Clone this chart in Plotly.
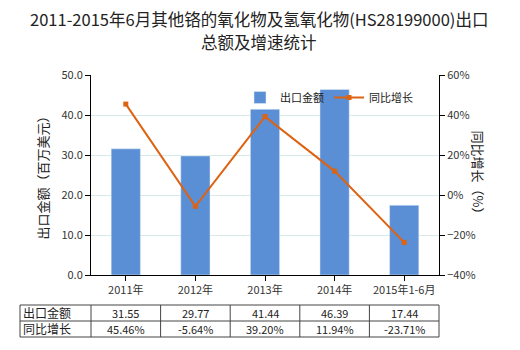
import plotly.graph_objects as go

categories = ["2011年", "2012年", "2013年", "2014年", "2015年1-6月"]
export_values = [31.55, 29.77, 41.44, 46.39, 17.44]
growth_values = [45.46, -5.64, 39.20, 11.94, -23.71]
export_labels = ["31.55", "29.77", "41.44", "46.39", "17.44"]
growth_labels = ["45.46%", "-5.64%", "39.20%", "11.94%", "-23.71%"]
row_names = ["出口金额", "同比增长"]
title_lines = ["2011-2015年6月其他铬的氧化物及氢氧化物(HS28199000)出口", "总额及增速统计"]

W, H = 520, 350
L, R, T, B = 91, 81, 75, 75
pw, ph = W - L - R, H - T - B

def px(x):
    return (x - L) / pw

def py(y):
    return (H - B - y) / ph

font = "Noto Sans CJK SC, Microsoft YaHei, sans-serif"
bar_color = "#5B8FD5"
line_color = "#DD6211"
grid_color = "#D6EAEA"

fig = go.Figure()
fig.add_trace(go.Bar(x=categories, y=export_values, name="出口金额",
                     marker_color=bar_color, width=0.42, yaxis="y"))
fig.add_trace(go.Scatter(x=categories, y=growth_values, name="同比增长",
                         mode="lines+markers", yaxis="y2",
                         line=dict(color=line_color, width=2),
                         marker=dict(symbol="square", size=5, color=line_color)))

fig.update_layout(
    width=W, height=H,
    margin=dict(l=L, r=R, t=T, b=B),
    paper_bgcolor="white", plot_bgcolor="white",
    font=dict(family=font, size=11, color="#333333"),
    showlegend=True,
    legend=dict(orientation="h", x=px(240), y=py(83), xanchor="left", yanchor="top",
                font=dict(size=11, color="#222222"), bgcolor="rgba(0,0,0,0)",
                itemwidth=30, tracegroupgap=0),
    xaxis=dict(type="category", range=[-0.5, 4.5], showline=True, linecolor="#000000",
               linewidth=1, ticks="outside", ticklen=5, tickcolor="#000000",
               showgrid=False, tickfont=dict(size=11, color="#333333")),
    yaxis=dict(range=[0, 50], dtick=10, tickformat=".1f", showline=True,
               linecolor="#000000", linewidth=1, ticks="outside", ticklen=5,
               tickcolor="#000000", showgrid=True, gridcolor=grid_color, zeroline=False,
               tickfont=dict(size=11, color="#333333")),
    yaxis2=dict(range=[-40, 60], dtick=20, ticksuffix="%", overlaying="y", side="right",
                showline=True, linecolor="#000000", linewidth=1, ticks="outside",
                ticklen=5, tickcolor="#000000", showgrid=False, zeroline=False,
                tickfont=dict(size=11, color="#333333")),
    bargap=0.58,
)

# title lines
for i, t in enumerate(title_lines):
    fig.add_annotation(text=t, xref="paper", yref="paper", x=px(259), y=py(19 + 23 * i),
                       xanchor="center", yanchor="middle", showarrow=False,
                       font=dict(size=16.5, color="#222222"))

# axis titles
fig.add_annotation(text="出口金额（百万美元）", xref="paper", yref="paper", x=px(30), y=py(175),
                   showarrow=False, textangle=-90, font=dict(size=13, color="#222222"))
fig.add_annotation(text="同比增长（%）", xref="paper", yref="paper", x=px(490), y=py(175),
                   showarrow=False, textangle=90, font=dict(size=13, color="#222222"))

# table
tx0, tx1 = 20, L + pw
ty0, ty1, ty2 = 305, 321, 337
band = pw / len(categories)
line = dict(color="#444444", width=1)
for yy in (ty0, ty1, ty2):
    fig.add_shape(type="line", xref="paper", yref="paper", x0=px(tx0), x1=px(tx1),
                  y0=py(yy), y1=py(yy), line=line)
xs = [tx0] + [L + band * k for k in range(len(categories) + 1)]
for xx in xs:
    fig.add_shape(type="line", xref="paper", yref="paper", x0=px(xx), x1=px(xx),
                  y0=py(ty0), y1=py(ty2), line=line)

rows = [export_labels, growth_labels]
for r, (name, vals) in enumerate(zip(row_names, rows)):
    yc = (ty0 + ty1) / 2 if r == 0 else (ty1 + ty2) / 2
    fig.add_annotation(text=name, xref="paper", yref="paper", x=px(tx0 + 1), y=py(yc - 1),
                       xanchor="left", yanchor="middle", showarrow=False,
                       font=dict(size=12, color="#222222"))
    for k, v in enumerate(vals):
        fig.add_annotation(text=v, xref="paper", yref="paper", x=px(L + band * (k + 0.5)),
                           y=py(yc), xanchor="center", yanchor="middle", showarrow=False,
                           font=dict(size=11, color="#222222"))

fig.write_html("out.html")
